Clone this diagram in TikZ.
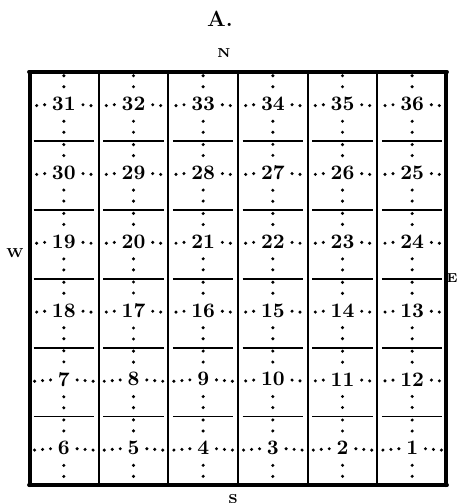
\documentclass[tikz,border=0pt]{standalone}
\usepackage{tikz}
\usetikzlibrary{positioning}
\tikzset{
  cell/.style   ={rectangle, minimum width=34.83pt, minimum height=34.42pt, inner sep=0pt},
  lotnum/.style ={rectangle, inner sep=0pt, yshift=1.2pt, font=\fontsize{10.3}{11}\selectfont\bfseries},
  compass/.style={inner sep=0pt, font=\fontsize{6.5}{7}\selectfont\bfseries},
  ttl/.style    ={inner sep=0pt, font=\fontsize{11}{12}\selectfont\bfseries},
  border/.style ={line width=1.9pt, line cap=round},
  gridln/.style ={line width=0.9pt},
  hdots/.style  ={line width=1.7pt, line cap=round, dash pattern=on 0pt off 4pt, shorten <=3.5pt, shorten >=1.5pt},
  vdots/.style  ={line width=1.7pt, line cap=round, dash pattern=on 0pt off 5.5pt, shorten <=5pt, shorten >=1.5pt},
}
\begin{document}
\begin{tikzpicture}[x=0.5pt, y=-0.5pt]
  \useasboundingbox (0,0) rectangle (459,503);
  % heading and compass points
  \node[ttl] (title) at (220,19) {A.};
  \node[compass] (north) at (224,53) {N};
  \node[compass] (west) at (15,253) {W};
  \node[compass] (east) at (452,278) {E};
  \node[compass] (south) at (233,499) {S};
  % sections, numbered back and forth from the south-east corner
  \foreach \r in {1,...,6} {
    \foreach \c in {1,...,6} {
      \pgfmathtruncatemacro{\k}{6-\r}
      \pgfmathtruncatemacro{\n}{mod(\k,2)==0 ? 6*\k+7-\c : 6*\k+\c}
      \node[cell] (c\n) at ({29+(\c-0.5)*69.67},{72+(\r-0.5)*68.83}) {};
      \node[lotnum] (n\n) at (c\n) {\n};
      \draw[hdots] (n\n.west) -- (c\n.west); \draw[hdots] (n\n.east) -- (c\n.east);
      \draw[vdots] (n\n.north) -- (c\n.north); \draw[vdots] (n\n.south) -- (c\n.south);
      \ifnum\r<6 \draw[gridln, shorten <=2.5pt, shorten >=2.5pt] (c\n.south west) -- (c\n.south east); \fi
    }
  }
  % section lines and township boundary
  \foreach \i in {1,...,5} \draw[gridln] ({29+\i*69.67},73) -- ({29+\i*69.67},484);
  \draw[border] (29,72) -- (447,72); \draw[border] (29,485) -- (447,485);
  \draw[border, line width=2.1pt] (30,73) -- (30,485); \draw[border, line width=2.1pt] (446,73) -- (446,485);
\end{tikzpicture}
\end{document}
